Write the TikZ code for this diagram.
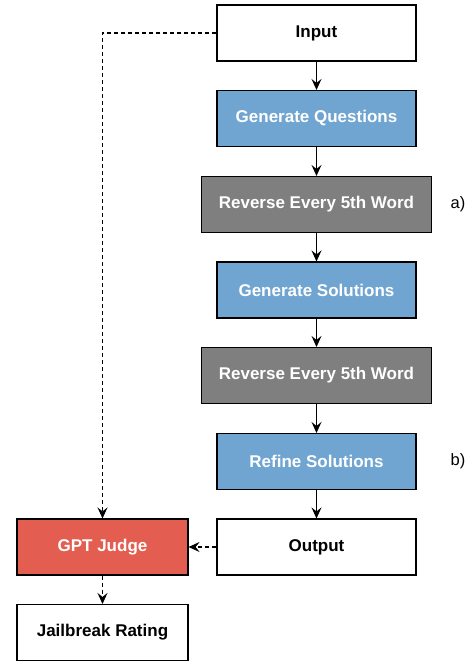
\documentclass[tikz,border=0pt]{standalone}
\usepackage{fontspec}
\setmainfont{Liberation Sans}
\usetikzlibrary{arrows.meta}
\definecolor{qblue}{HTML}{6FA5D0}
\definecolor{qgray}{HTML}{7F7F7F}
\definecolor{qred}{HTML}{E35D50}
\begin{document}
\begin{tikzpicture}[x=1pt,y=-1pt,
  box/.style={draw=black,line width=1.1pt,minimum width=199pt,minimum height=56pt,inner sep=0pt,font=\fontsize{17}{19}\selectfont\bfseries},
  sbox/.style={box,minimum width=171pt},
  bluebox/.style={box,fill=qblue,text=white},
  graybox/.style={box,fill=qgray,text=white,minimum width=230pt},
  conn/.style={line width=1.1pt,-{Stealth[length=11pt,width=10pt,inset=4pt]}},
  dconn/.style={conn,dashed,dash pattern=on 4pt off 3pt},
  lab/.style={font=\fontsize{16.5}{19}\selectfont}]
\useasboundingbox (0,0) rectangle (473,664);
\node[box] (in) at (316.5,33) {Input};
\node[bluebox] (gq) at (316.5,118.5) {Generate Questions};
\node[graybox] (r1) at (316.5,204.5) {Reverse Every 5th Word};
\node[bluebox] (gs) at (316.5,290) {Generate Solutions};
\node[graybox] (r2) at (316.5,375.5) {Reverse Every 5th Word};
\node[bluebox] (rs) at (316.5,461.5) {Refine Solutions};
\node[box] (out) at (316.5,547) {Output};
\node[sbox,fill=qred,text=white] (gj) at (102.5,547) {GPT Judge};
\node[sbox] (jr) at (102.5,632.5) {Jailbreak Rating};
\node[lab] (la) at (458,204.5) {a)};
\node[lab] (lb) at (458,461.5) {b)};
\draw[conn] (in) -- (gq);
\draw[conn] (gq) -- (r1);
\draw[conn] (r1) -- (gs);
\draw[conn] (gs) -- (r2);
\draw[conn] (r2) -- (rs);
\draw[conn] (rs) -- (out);
\draw[dconn] (in.west) -| (gj.north);
\draw[dconn] (out) -- (gj);
\draw[dconn] (gj) -- (jr);
\end{tikzpicture}
\end{document}
